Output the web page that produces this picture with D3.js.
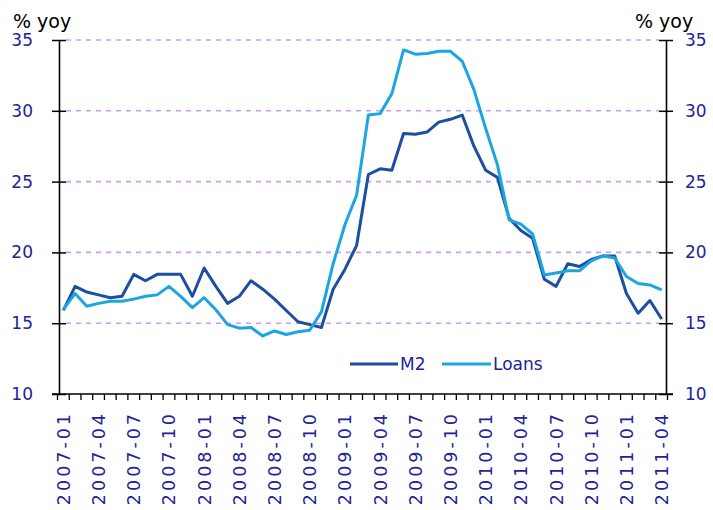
<!DOCTYPE html>
<html>
<head>
<meta charset="utf-8">
<script src="https://cdn.jsdelivr.net/npm/d3@7"></script>
<style>
  html, body { margin: 0; padding: 0; background: #fff; }
  svg { display: block; }
  text { font-family: "DejaVu Sans", sans-serif; }
</style>
</head>
<body>
<svg id="chart" width="713" height="510"></svg>
<script>
// ---- data ----
const months = [];
for (let y = 2007; y <= 2011; y++) {
  for (let m = 1; m <= 12; m++) {
    if (y === 2011 && m > 4) break;
    months.push(y + "-" + String(m).padStart(2, "0"));
  }
}
const m2Values = [15.9, 17.6, 17.2, 17.0, 16.8, 16.9, 18.45, 18.0, 18.45, 18.45,
  18.45, 16.9, 18.9, 17.6, 16.4, 16.9, 18.0, 17.4, 16.7, 15.9,
  15.1, 14.9, 14.7, 17.4, 18.8, 20.5, 25.5, 25.9, 25.8, 28.4,
  28.35, 28.5, 29.2, 29.4, 29.7, 27.5, 25.8, 25.3, 22.4, 21.55,
  21.0, 18.1, 17.6, 19.2, 19.0, 19.5, 19.75, 19.75, 17.1, 15.7,
  16.6, 15.3];
const loansValues = [15.95, 17.1, 16.2, 16.4, 16.55, 16.55, 16.7, 16.9, 17.0, 17.6,
  16.9, 16.1, 16.8, 15.95, 14.9, 14.65, 14.7, 14.1, 14.45, 14.2,
  14.4, 14.5, 15.8, 19.2, 21.95, 24.05, 29.7, 29.8, 31.2, 34.3,
  34.0, 34.05, 34.2, 34.2, 33.5, 31.5, 28.75, 26.2, 22.3, 22.0,
  21.3, 18.4, 18.55, 18.7, 18.7, 19.4, 19.75, 19.6, 18.3, 17.8,
  17.7, 17.35];
const yTicks = [10, 15, 20, 25, 30, 35];
const xTickLabels = months.filter((d, i) => i % 3 === 0);
const seriesNames = ["M2", "Loans"];
const seriesColors = ["#1c4f9e", "#1ba6e2"];

// ---- layout ----
const svg = d3.select("#chart");
const leftX = 59, rightX = 666, topY = 40, bottomY = 394;
const labelColor = "#22229a";

const x = d3.scaleBand().domain(months).range([57.5, 667.5]).padding(0);
const xc = d => x(d) + x.bandwidth() / 2;
const y = d3.scaleLinear().domain([10, 35]).range([bottomY, topY]);

// gridlines
svg.append("g").selectAll("line")
  .data(yTicks.filter(v => v > 10))
  .join("line")
  .attr("x1", leftX + 7).attr("x2", rightX - 7)
  .attr("y1", d => y(d)).attr("y2", d => y(d))
  .attr("stroke", "#cc9cf7").attr("stroke-width", 1.6)
  .attr("stroke-dasharray", "5,5");

// left axis
const leftAxis = d3.axisLeft(y).tickValues(yTicks).tickSize(7).tickSizeOuter(0).tickPadding(20);
const gL = svg.append("g").attr("transform", `translate(${leftX},0)`).call(leftAxis);
gL.select(".domain").attr("stroke", "#000").attr("stroke-width", 1.6);
gL.selectAll(".tick line").attr("stroke", "#000").attr("stroke-width", 1.5).attr("x2", 7).attr("x1", -7);
gL.selectAll(".tick text").attr("fill", labelColor).style("font-size", "17px")
  .style("font-family", "DejaVu Sans, sans-serif").attr("x", -26).attr("text-anchor", "end");

// right axis
const rightAxis = d3.axisRight(y).tickValues(yTicks).tickSize(7).tickSizeOuter(0);
const gR = svg.append("g").attr("transform", `translate(${rightX},0)`).call(rightAxis);
gR.select(".domain").attr("stroke", "#000").attr("stroke-width", 1.6);
gR.selectAll(".tick line").attr("stroke", "#000").attr("stroke-width", 1.5).attr("x1", -7).attr("x2", 7);
gR.selectAll(".tick text").attr("fill", labelColor).style("font-size", "17px")
  .style("font-family", "DejaVu Sans, sans-serif").attr("x", 19).attr("text-anchor", "start");

// bottom axis line + tick marks at category boundaries
const gB = svg.append("g");
gB.append("line").attr("x1", leftX - 7).attr("x2", rightX + 7)
  .attr("y1", bottomY).attr("y2", bottomY).attr("stroke", "#000").attr("stroke-width", 1.6);
const boundaries = months.map(d => x(d)).concat([x(months[months.length - 1]) + x.bandwidth()]);
gB.selectAll("line.tk").data(boundaries).join("line").attr("class", "tk")
  .attr("x1", d => d).attr("x2", d => d)
  .attr("y1", bottomY).attr("y2", bottomY + 6)
  .attr("stroke", "#000").attr("stroke-width", 1.3);

// x labels
gB.selectAll("text.xl").data(xTickLabels).join("text").attr("class", "xl")
  .attr("transform", d => `translate(${xc(d)},411) rotate(-90)`)
  .attr("text-anchor", "end").attr("dy", "0.37em")
  .attr("fill", labelColor).style("font-size", "17.5px").style("letter-spacing", "3px")
  .text(d => d);

// axis titles
svg.append("text").attr("x", 13).attr("y", 28).attr("fill", "#000")
  .style("font-size", "19px").text("% yoy");
svg.append("text").attr("x", 635).attr("y", 28).attr("fill", "#000")
  .style("font-size", "19px").text("% yoy");

// lines
const line = d3.line().x((d, i) => xc(months[i])).y(d => y(d));
[m2Values, loansValues].forEach((vals, k) => {
  svg.append("path").datum(vals)
    .attr("fill", "none").attr("stroke", seriesColors[k])
    .attr("stroke-width", 3).attr("stroke-linejoin", "round")
    .attr("d", line);
});

// legend
const legendPos = [{ x1: 350, x2: 398, tx: 400 }, { x1: 442, x2: 491, tx: 493 }];
seriesNames.forEach((name, k) => {
  const p = legendPos[k];
  svg.append("line").attr("x1", p.x1).attr("x2", p.x2).attr("y1", 364).attr("y2", 364)
    .attr("stroke", seriesColors[k]).attr("stroke-width", 3);
  svg.append("text").attr("x", p.tx).attr("y", 370).attr("fill", labelColor)
    .style("font-size", "17px").text(name);
});
</script>
</body>
</html>
